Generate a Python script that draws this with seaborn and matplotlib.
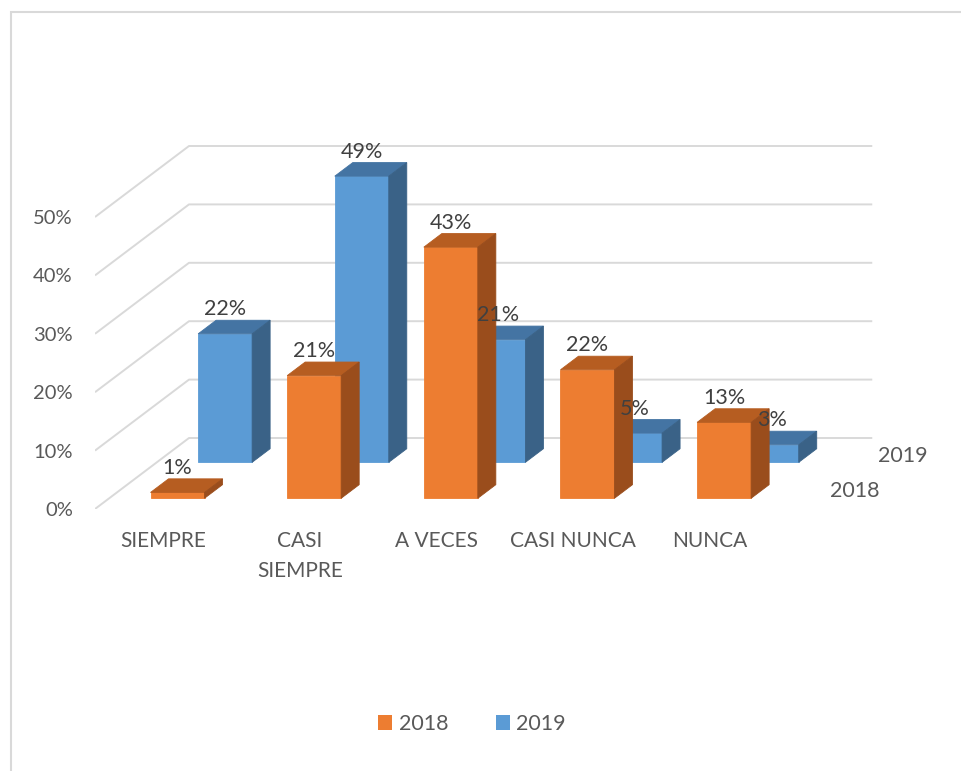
import matplotlib
matplotlib.use("Agg")
import matplotlib.pyplot as plt
import pandas as pd
import seaborn as sns
from matplotlib.patches import Polygon, Rectangle

# ---- data -------------------------------------------------------------
categories = ["SIEMPRE", "CASI\nSIEMPRE", "A VECES", "CASI NUNCA", "NUNCA"]
years = ["2018", "2019"]
values_2018 = [1, 21, 43, 22, 13]
values_2019 = [22, 49, 21, 5, 3]
y_ticks = [0, 10, 20, 30, 40, 50]

# ---- style ------------------------------------------------------------
sns.set_theme(style="white")
plt.rcParams["font.family"] = ["Lato", "DejaVu Sans"]
TEXT = "#595959"
LABEL = "#404040"
GRID = "#d9d9d9"
FACES = {
    "2018": ("#ED7D31", "#B65D21", "#9A4D1C"),  # front, top, side
    "2019": ("#5B9BD5", "#4474A3", "#3A6287"),
}

W, H = 961, 771
fig = plt.figure(figsize=(W / 100, H / 100), dpi=100)

# pixel geometry of the oblique projection
PX_CAT = 136.65        # pixels per category step
PX_PCT = 5.84          # pixels per percentage point
Y0_PX = 509            # 0 % on the front edge
L_PX, R_PX, T_PX = 95, 905, 100
SLOPE = 71 / 94        # vertical rise per horizontal pixel of depth
FLOOR_DEPTH = 94
ROWS = {"2018": (14.2, 32.2), "2019": (61.8, 79.8)}   # depth span of each row
BAR_W = 54 / PX_CAT

ax = fig.add_axes([L_PX / W, 1 - Y0_PX / H, (R_PX - L_PX) / W, (Y0_PX - T_PX) / H])


def depth(dpx):
    """Data-space offset produced by moving dpx pixels into the chart."""
    return dpx / PX_CAT, dpx * SLOPE / PX_PCT


# back wall / side wall gridlines
fdx, fdy = depth(FLOOR_DEPTH)
for v in y_ticks:
    ax.plot([-0.5, -0.5 + fdx, len(categories) - 0.5 + fdx],
            [v, v + fdy, v + fdy], color=GRID, lw=1.4, zorder=1,
            solid_capstyle="butt")

# bars: back row first so the front row covers it
series = {"2018": values_2018, "2019": values_2019}
for order, year in enumerate(["2019", "2018"]):
    vals = series[year]
    df = pd.DataFrame({"categoria": categories, "valor": vals})
    front, top, side = FACES[year]
    z = 2 + order
    sns.barplot(data=df, x="categoria", y="valor", order=categories,
                color=front, saturation=1, width=BAR_W, linewidth=0.6,
                edgecolor=front, ax=ax, zorder=z)
    d1, d2 = ROWS[year]
    sx, sy = depth(d1)
    bx, by = depth(d2 - d1)
    for bar, v in zip(ax.containers[-1], vals):
        bar.set_x(bar.get_x() + sx)
        bar.set_y(sy)
        x0 = bar.get_x()
        x1 = x0 + bar.get_width()
        y0 = bar.get_y()
        y1 = y0 + bar.get_height()
        ax.add_patch(Polygon([(x0, y1), (x1, y1), (x1 + bx, y1 + by), (x0 + bx, y1 + by)],
                             closed=True, facecolor=top, edgecolor=top, lw=0.6, zorder=z))
        ax.add_patch(Polygon([(x1, y0), (x1 + bx, y0 + by), (x1 + bx, y1 + by), (x1, y1)],
                             closed=True, facecolor=side, edgecolor=side, lw=0.6, zorder=z))
        ax.annotate(f"{v}%", xy=((x0 + x1) / 2, y1 + by), xytext=(0, 3.6),
                    textcoords="offset points", ha="center", va="baseline",
                    fontsize=15.5, color=LABEL, zorder=6)

    # series name at the right end of the floor
    cx, cy = depth((d1 + d2) / 2)
    ax.annotate(year, xy=(len(categories) - 0.5 + cx, cy), xytext=(20.5, 0),
                textcoords="offset points", ha="left", va="center",
                fontsize=15.5, color=TEXT, annotation_clip=False)

ax.set_xlim(-0.5, -0.5 + (R_PX - L_PX) / PX_CAT)
ax.set_ylim(0, (Y0_PX - T_PX) / PX_PCT)
ax.set_yticks(y_ticks)
ax.set_yticklabels([f"{v}%" for v in y_ticks], fontsize=14.5, color=TEXT)
ax.set_xticks(range(len(categories)))
ax.set_xticklabels(categories, fontsize=15, color=TEXT, linespacing=1.6)
ax.tick_params(axis="y", length=0, pad=16)
ax.tick_params(axis="x", length=0, pad=16)
ax.set_xlabel("")
ax.set_ylabel("")
for s in ax.spines.values():
    s.set_visible(False)
ax.patch.set_alpha(0)

# legend
handles = [Rectangle((0, 0), 1, 1, facecolor=FACES[y][0], edgecolor="none") for y in years]
fig.legend(handles, years, loc="center", bbox_to_anchor=(472 / W, 1 - 724 / H),
           ncol=2, frameon=False, fontsize=15.5, labelcolor=TEXT,
           handlelength=0.65, handleheight=0.65, handletextpad=0.3,
           columnspacing=2.2)

# chart area border
fig.patches.append(Rectangle((11 / W, -0.05), 1.2, 1.05 - 12 / H,
                             transform=fig.transFigure, fill=False,
                             edgecolor=GRID, lw=1.5))

fig.savefig("out.png", dpi=100, facecolor="white")
